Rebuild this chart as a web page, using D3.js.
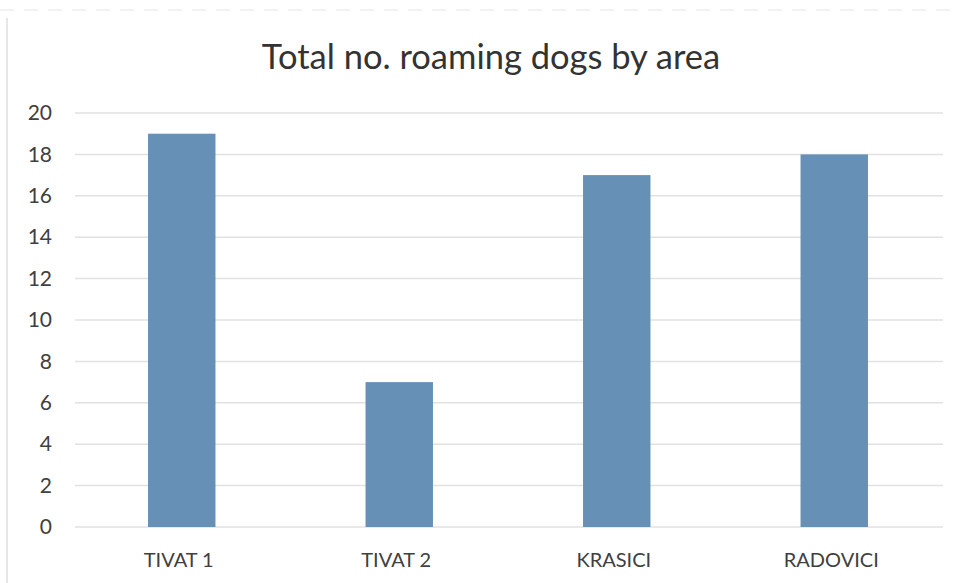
<!DOCTYPE html>
<html><head><meta charset="utf-8">
<script src="https://cdn.jsdelivr.net/npm/d3@7"></script>
<style>body{margin:0;background:#fff;}svg{display:block;}</style>
</head><body>
<script>
const categories = ["TIVAT 1", "TIVAT 2", "KRASICI", "RADOVICI"];
const values = [19, 7, 17, 18];
const yTicks = [0, 2, 4, 6, 8, 10, 12, 14, 16, 18, 20];
const title = "Total no. roaming dogs by area";

const W = 958, H = 583;
const svg = d3.select("body").append("svg").attr("width", W).attr("height", H);
const font = "Lato, 'Open Sans', 'Liberation Sans', sans-serif";

// faint frame edges
svg.append("line").attr("x1", 7).attr("x2", 7).attr("y1", 18).attr("y2", H)
  .attr("stroke", "#e6e6e6").attr("stroke-width", 2);
svg.append("line").attr("x1", 0).attr("x2", W).attr("y1", 10).attr("y2", 10)
  .attr("stroke", "#f2f2f2").attr("stroke-width", 2).attr("stroke-dasharray", "14,10");

const x = d3.scaleBand().domain(categories).range([73, 943]).paddingInner(0.69).paddingOuter(0.345);
const y = d3.scaleLinear().domain([0, 20]).range([527, 113]);

const g = svg.append("g");
g.selectAll(".grid").data(yTicks).enter().append("line")
  .attr("x1", 75).attr("x2", 943)
  .attr("y1", d => y(d)).attr("y2", d => y(d))
  .attr("stroke", "#e2e2e2").attr("stroke-width", 1.5);

const yAxis = d3.axisLeft(y).tickValues(yTicks).tickSize(0).tickPadding(0);
const ya = svg.append("g").attr("transform", "translate(52,0)").call(yAxis);
ya.attr("font-size", null).attr("font-family", null);
ya.select(".domain").remove();
ya.selectAll("text").style("font-family", font).style("font-size", "21px").attr("fill", "#404040");

g.selectAll(".bar").data(values).enter().append("rect")
  .attr("x", (d, i) => x(categories[i]))
  .attr("width", x.bandwidth())
  .attr("y", d => y(d))
  .attr("height", d => y(0) - y(d))
  .attr("fill", "#6690b6");

const xAxis = d3.axisBottom(x).tickSize(0).tickPadding(0);
const xa = svg.append("g").attr("transform", "translate(-3,567)").call(xAxis);
xa.attr("font-size", null).attr("font-family", null);
xa.select(".domain").remove();
xa.selectAll("text").style("font-family", font).style("font-size", "20px").attr("fill", "#404040").attr("dy", "0");

svg.append("text").attr("x", 491).attr("y", 69).attr("text-anchor", "middle")
  .style("font-family", font).style("font-size", "34.5px").attr("fill", "#333").text(title);
</script>
</body></html>
